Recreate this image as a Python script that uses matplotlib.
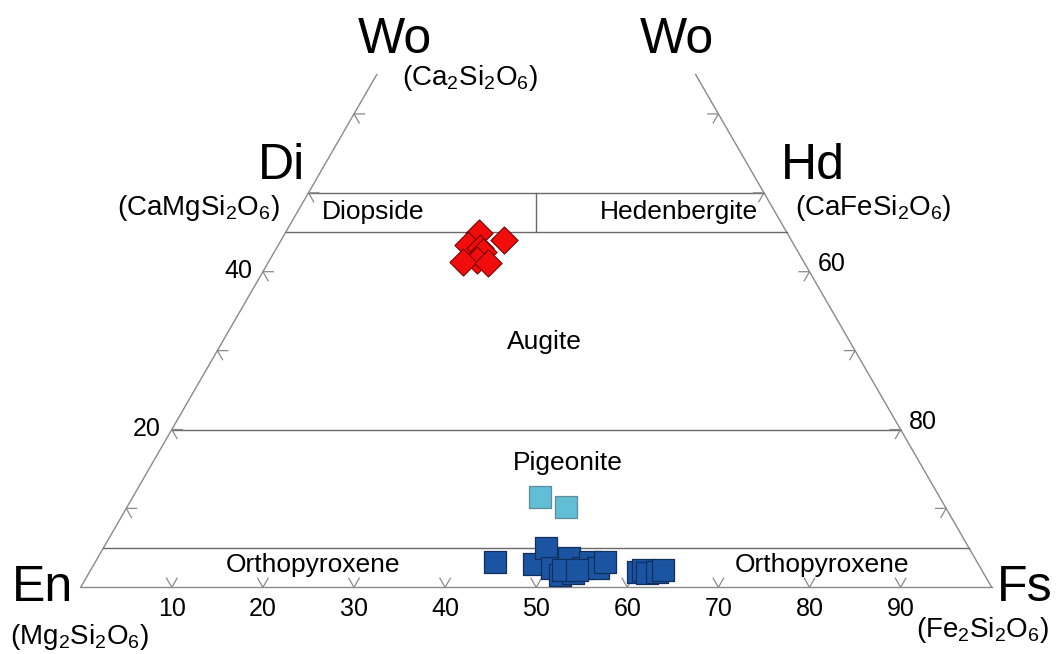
import numpy as np
import matplotlib
matplotlib.use("Agg")
import matplotlib.pyplot as plt

plt.rcParams['font.family'] = ['Liberation Sans', 'DejaVu Sans']
plt.rcParams['mathtext.fontset'] = 'custom'
plt.rcParams['mathtext.rm'] = 'Liberation Sans'
plt.rcParams['mathtext.it'] = 'Liberation Sans'
plt.rcParams['mathtext.bf'] = 'Liberation Sans:bold'

# --- data: (Wo, Fs) in mol %, En = 100 - Wo - Fs ---
augite_wo = [44.9, 44.0, 43.4, 43.0, 42.5, 41.5, 41.2, 41.1]
augite_fs = [21.3, 24.5, 20.8, 22.3, 22.9, 22.8, 21.4, 24.2]

pigeonite_wo = [11.5, 10.2]
pigeonite_fs = [44.7, 48.2]

opx_wo = [3.2, 3.0, 5.0, 2.5, 1.6, 3.7, 1.8, 2.5, 3.2, 2.5, 3.2, 2.2, 2.2,
          1.9, 2.2, 1.8, 1.9, 2.2]
opx_fs = [43.9, 48.3, 48.6, 50.5, 51.8, 51.8, 53.1, 53.9, 54.3, 55.5, 56.0, 51.8, 53.4,
          60.2, 60.6, 61.3, 62.3, 62.8]

# field boundaries (Wo %)
boundaries_wo = [5, 20, 45, 50]
side_top_wo = 65
base_ticks = [10, 20, 30, 40, 50, 60, 70, 80, 90]
side_ticks = [10, 20, 30, 40, 50, 60]
left_labels = {20: "20", 40: "40"}
right_labels = {20: "80", 40: "60"}

R3 = np.sqrt(3) / 2


def tern(wo, fs):
    wo = np.asarray(wo, dtype=float)
    fs = np.asarray(fs, dtype=float)
    return fs + wo / 2, wo * R3


# pixel -> data helper for layout only
S = 9.11
X0, Y0 = 80.7, 587.3


def px(x, y):
    return (x - X0) / S, (Y0 - y) / S


fig = plt.figure(figsize=(10.59, 6.54), dpi=100)
ax = fig.add_axes([0, 0, 1, 1])
ax.set_xlim(px(0, 0)[0], px(1059, 0)[0])
ax.set_ylim(px(0, 654)[1], px(0, 0)[1])
ax.set_aspect('equal')
ax.axis('off')

side_col = '#8a8a8a'
line_col = '#6a6a6a'

# outline
ax.plot(*tern([0, 0], [0, 100]), color=side_col, lw=1)
ax.plot(*tern([0, side_top_wo], [0, 0]), color=side_col, lw=1)
ax.plot(*tern([0, side_top_wo], [100, 100 - side_top_wo]), color=side_col, lw=1)

# field boundaries
for wo in boundaries_wo:
    ax.plot(*tern([wo, wo], [0, 100 - wo]), color=line_col, lw=1)
# Di / Hd divider (En = Fs)
ax.plot(*tern([45, 50], [27.5, 25]), color=line_col, lw=1)

# tick chevrons
L = 1.15
for f in base_ticks:
    x, y = tern(0, f)
    ax.plot([x - 0.5 * L, x, x + 0.5 * L], [y + R3 * L, y, y + R3 * L], color=side_col, lw=0.9)
for wo in side_ticks:
    x, y = tern(wo, 0)
    ax.plot([x + L, x, x + 0.5 * L], [y, y, y - R3 * L], color=side_col, lw=0.9)
    x, y = tern(wo, 100 - wo)
    ax.plot([x - L, x, x - 0.5 * L], [y, y, y - R3 * L], color=side_col, lw=0.9)

# tick labels
for f in base_ticks:
    x, y = tern(0, f)
    ax.text(x, y - 1.1, str(f), ha='center', va='top', fontsize=18)
for wo, lab in left_labels.items():
    x, y = tern(wo, 0)
    ax.text(x - 1.2, y + 0.1, lab, ha='right', va='center', fontsize=18)
for wo, lab in right_labels.items():
    x, y = tern(wo, 100 - wo)
    ax.text(x + 0.9, y + 0.8, lab, ha='left', va='center', fontsize=18)

# data points
ax.scatter(*tern(opx_wo, opx_fs), marker='s', s=270, color='#1b55a2',
           edgecolors='#102f5c', linewidths=0.9, zorder=5)
ax.scatter(*tern(pigeonite_wo, pigeonite_fs), marker='s', s=270, color='#62bed4',
           edgecolors='#5f8c99', linewidths=0.9, zorder=5)
ax.scatter(*tern(augite_wo, augite_fs), marker='D', s=190, color='#f20d0d',
           edgecolors='#7a0000', linewidths=0.8, zorder=5)

# field names
fs_lab = 19
ax.text(*px(373, 212), "Diopside", ha='center', va='center', fontsize=fs_lab)
ax.text(*px(679, 212), "Hedenbergite", ha='center', va='center', fontsize=fs_lab)
ax.text(*px(544, 342), "Augite", ha='center', va='center', fontsize=fs_lab)
ax.text(*px(568, 463), "Pigeonite", ha='center', va='center', fontsize=fs_lab)
ax.text(*px(313, 565), "Orthopyroxene", ha='center', va='center', fontsize=fs_lab)
ax.text(*px(822, 565), "Orthopyroxene", ha='center', va='center', fontsize=fs_lab)

# end-member labels
big = 36
small = 20
ax.text(*px(395, 40), "Wo", ha='center', va='center', fontsize=big)
ax.text(*px(677, 40), "Wo", ha='center', va='center', fontsize=big)
ax.text(*px(281, 166), "Di", ha='center', va='center', fontsize=big)
ax.text(*px(813, 166), "Hd", ha='center', va='center', fontsize=big)
ax.text(*px(42, 588), "En", ha='center', va='center', fontsize=big)
ax.text(*px(1025, 588), "Fs", ha='center', va='center', fontsize=big)

ax.text(*px(470, 78), r"(Ca$_2$Si$_2$O$_6$)", ha='center', va='center', fontsize=small)
ax.text(*px(198, 208), r"(CaMgSi$_2$O$_6$)", ha='center', va='center', fontsize=small)
ax.text(*px(873, 208), r"(CaFeSi$_2$O$_6$)", ha='center', va='center', fontsize=small)
ax.text(*px(80, 637), r"(Mg$_2$Si$_2$O$_6$)", ha='center', va='center', fontsize=small)
ax.text(*px(982, 630), r"(Fe$_2$Si$_2$O$_6$)", ha='center', va='center', fontsize=small)

fig.savefig("out.png", dpi=100)
